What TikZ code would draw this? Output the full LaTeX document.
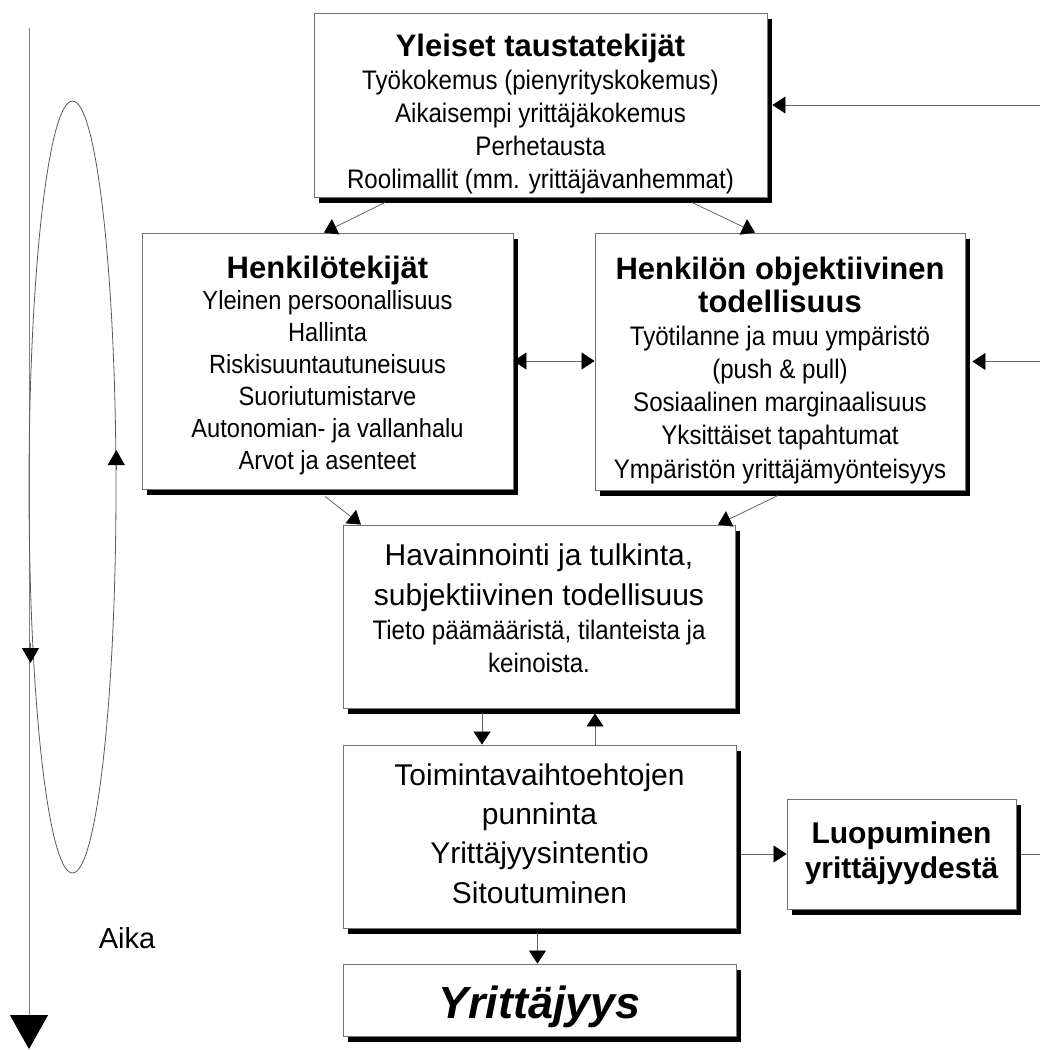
\documentclass[tikz,border=0pt]{standalone}
\usepackage{fontspec}
\setmainfont{Liberation Sans}
\newfontfamily\tallfont[FakeStretch=0.9]{Liberation Sans}
\usetikzlibrary{arrows.meta,shadows}
\newcommand\ttlfont{\normalfont\bfseries\fontsize{31}{33}\selectfont}
\newcommand\bigfont{\normalfont\fontsize{30}{33}\selectfont}
\begin{document}
\begin{tikzpicture}[x=1pt,y=-1pt,
  box/.style={draw=black!55, line width=0.9pt, fill=white, inner sep=0pt,
    drop shadow={shadow xshift=5pt, shadow yshift=-5.5pt, fill=black, opacity=1}},
  txt/.style={inner sep=0pt, align=center, text=black},
  tip/.style={-{Triangle[length=13pt,width=17pt,color=black]}},
  conn/.style={draw=black!60, line width=0.8pt, tip},
  dconn/.style={draw=black!60, line width=0.8pt, {Triangle[length=13pt,width=17pt,color=black]}-{Triangle[length=13pt,width=17pt,color=black]}},
  plain/.style={draw=black!60, line width=0.8pt},
  axisline/.style={draw=black!50, line width=1pt, -{Triangle[length=34pt,width=38pt,color=black]}},
  loopline/.style={draw=black!65, line width=0.8pt},
  looptip/.style={draw=black!65, line width=0.8pt, -{Triangle[length=15pt,width=17pt,color=black]}}
]
\useasboundingbox (0,0) rectangle (1040,1050);

% time axis and cycle
\coordinate (ax0) at (29,28);
\coordinate (ax1) at (29,1049);
\draw[axisline] (ax0) -- (ax1);
\draw[loopline] (72.5,487) ellipse [x radius=43.5, y radius=386];
\coordinate (up0) at (116.3,470);
\coordinate (up1) at (116.3,450);
\draw[looptip] (up0) -- (up1);
\coordinate (dn0) at (30.5,643);
\coordinate (dn1) at (30.5,663);
\draw[looptip] (dn0) -- (dn1);
\node[txt, anchor=base, font=\fontsize{29}{34}\selectfont] (aika) at (127,948) {Aika};

% boxes
\node[box, minimum width=453, minimum height=184] (top) at (540.5,105) {};
\node[box, minimum width=371, minimum height=256] (hen) at (327.5,361) {};
\node[box, minimum width=370, minimum height=257] (obj) at (780,361.5) {};
\node[box, minimum width=392, minimum height=183] (hav) at (539,616.5) {};
\node[box, minimum width=393, minimum height=183] (toim) at (539.5,836.5) {};
\node[box, minimum width=229, minimum height=110] (luop) at (901.5,854) {};
\node[box, minimum width=393, minimum height=72] (yrit) at (539.5,1000) {};

% texts
\node[txt, font=\tallfont\fontsize{26.8}{33}\selectfont] (topt) at (540.5,115.4)
  {\strut{\ttlfont Yleiset taustatekijät}\\
   \strut Työkokemus (pienyrityskokemus)\\
   \strut Aikaisempi yrittäjäkokemus\\
   \strut Perhetausta\\
   \strut Roolimallit (mm. yrittäjävanhemmat)};
\node[txt, font=\tallfont\fontsize{26.3}{31.83}\selectfont] (hent) at (327.5,367.1)
  {\strut{\ttlfont Henkilötekijät}\\
   \strut Yleinen persoonallisuus\\
   \strut Hallinta\\
   \strut Riskisuuntautuneisuus\\
   \strut Suoriutumistarve\\
   \strut Autonomian- ja vallanhalu\\
   \strut Arvot ja asenteet};
\node[txt, font=\tallfont\fontsize{26.8}{33.17}\selectfont] (objt) at (780,371.9)
  {\strut{\ttlfont Henkilön objektiivinen}\\
   \strut{\ttlfont todellisuus}\\
   \strut Työtilanne ja muu ympäristö\\
   \strut (push \& pull)\\
   \strut Sosiaalinen marginaalisuus\\
   \strut Yksittäiset tapahtumat\\
   \strut Ympäristön yrittäjämyönteisyys};
\node[txt, font=\tallfont\fontsize{26.8}{33}\selectfont] (havt) at (539,611.9)
  {\strut{\bigfont Havainnointi ja tulkinta,}\\[7pt]
   \strut{\bigfont subjektiivinen todellisuus}\\[1pt]
   \strut Tieto päämääristä, tilanteista ja\\
   \strut keinoista.};
\node[txt, font=\fontsize{30}{39.3}\selectfont] (toimt) at (539.5,836.2)
  {\strut Toimintavaihtoehtojen\\
   \strut punninta\\
   \strut Yrittäjyysintentio\\
   \strut Sitoutuminen};
\node[txt, font=\bfseries\fontsize{30}{35}\selectfont] (luopt) at (901.5,853.5)
  {\strut Luopuminen\\
   \strut yrittäjyydestä};
\node[txt, anchor=base, font=\bfseries\itshape\fontsize{45}{50}\selectfont] (yritt) at (539.5,1018) {Yrittäjyys};

% connectors
\coordinate (e1) at (1040,105);
\draw[conn] (e1) -- ([xshift=5pt]top.east);
\coordinate (e2) at (1040,361.5);
\draw[conn] (e2) -- ([xshift=7pt]obj.east);
\draw[conn] ([xshift=-155.5pt,yshift=-5pt]top.south) -- ([xshift=-3.5pt]hen.north);
\draw[conn] ([xshift=151.5pt,yshift=-5pt]top.south) -- ([xshift=-25pt]obj.north);
\draw[dconn] (hen.east) -- (obj.west |- hen.east);
\draw[conn] ([xshift=-2.5pt,yshift=-7pt]hen.south) -- ([xshift=-178pt]hav.north);
\draw[conn] ([xshift=-2pt,yshift=-5pt]obj.south) -- ([xshift=179pt]hav.north);
\draw[conn] ([xshift=-57pt,yshift=-5pt]hav.south) -- ([xshift=-57.5pt]toim.north);
\draw[conn] ([xshift=55.5pt]toim.north) -- ([xshift=56pt,yshift=-5pt]hav.south);
\coordinate (ts) at ([xshift=5pt]toim.east);
\draw[conn] (ts |- luop.west) -- (luop.west);
\coordinate (e3) at (1040,854);
\draw[plain] ([xshift=5pt]luop.east) -- (e3);
\draw[conn] ([xshift=-2pt,yshift=-5pt]toim.south) -- ([xshift=-2pt]yrit.north);
\end{tikzpicture}
\end{document}
